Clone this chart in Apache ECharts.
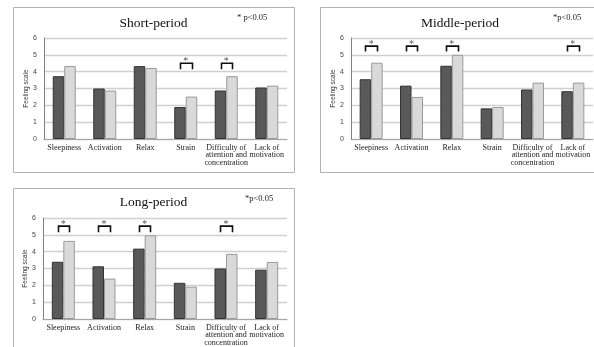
<!DOCTYPE html>
<html><head><meta charset="utf-8">
<script src="https://cdn.jsdelivr.net/npm/echarts@6/dist/echarts.min.js"></script>
<style>html,body{margin:0;padding:0;background:#fff}#c{width:594px;height:347px}</style>
</head><body><div id="c"></div>
<script>
// Feeling-scale ratings per period, two conditions each
const categories = ['Sleepiness', 'Activation', 'Relax', 'Strain', 'Difficulty of\nattention and\nconcentration', 'Lack of\nmotivation'];
const yTicks = [0, 1, 2, 3, 4, 5, 6];
const panelTitles = ['Short-period', 'Middle-period', 'Long-period'];
const noteTexts = ['* p<0.05', '*p<0.05', '*p<0.05'];
const yAxisName = 'Feeling scale';

const shortDark = [3.73, 3.0, 4.33, 1.9, 2.88, 3.06];
const shortLight = [4.34, 2.88, 4.22, 2.52, 3.73, 3.17];
const middleDark = [3.55, 3.17, 4.35, 1.82, 2.94, 2.84];
const middleLight = [4.53, 2.5, 5.0, 1.9, 3.35, 3.35];
const longDark = [3.4, 3.13, 4.18, 2.15, 3.0, 2.93];
const longLight = [4.64, 2.4, 4.97, 1.92, 3.87, 3.39];

// significant pairs: [category index, bracket top, leg end]
const shortSig = [[3, 4.5, 4.15], [4, 4.5, 4.15]];
const middleSig = [[0, 5.52, 5.2], [1, 5.52, 5.2], [2, 5.52, 5.2], [5, 5.52, 5.2]];
const longSig = [[0, 5.52, 5.16], [1, 5.52, 5.16], [2, 5.52, 5.16], [4, 5.52, 5.16]];

const BAR_W = 11.5;
const SERIF = '"Liberation Serif", "Times New Roman", serif';
const SANS = '"Liberation Sans", Arial, sans-serif';

const grids = [
  { left: 44, top: 38, width: 243, height: 101 },
  { left: 351, top: 38, width: 242, height: 101 },
  { left: 43, top: 218, width: 244, height: 101 }
];

const xAxes = grids.map((g, i) => ({
  type: 'category', gridIndex: i, data: categories,
  axisTick: { show: false },
  axisLine: { show: true, lineStyle: { color: '#a6a6a6', width: 1 } },
  axisLabel: { interval: 0, fontFamily: SERIF, fontSize: 8, lineHeight: 7.6, color: '#222', margin: 5 }
}));

const yAxes = grids.map((g, i) => ({
  type: 'value', gridIndex: i, min: yTicks[0], max: yTicks[yTicks.length - 1], interval: 1,
  name: yAxisName, nameLocation: 'middle', nameGap: 14,
  nameTextStyle: { fontFamily: SANS, fontSize: 6.5, color: '#333' },
  axisLine: { show: true, lineStyle: { color: '#808080', width: 1 } },
  axisTick: { show: false },
  splitLine: { show: true, lineStyle: { color: '#d0d0d0', width: 1.4 } },
  axisLabel: { fontFamily: SANS, fontSize: 7, color: '#444', margin: 7 }
}));

function barPair(i, dark, light) {
  return [
    { type: 'bar', xAxisIndex: i, yAxisIndex: i, data: dark, barWidth: BAR_W, barGap: '0%',
      itemStyle: { color: '#595959', borderColor: '#333333', borderWidth: 1 }, silent: true },
    { type: 'bar', xAxisIndex: i, yAxisIndex: i, data: light, barWidth: BAR_W, barGap: '0%',
      itemStyle: { color: '#d9d9d9', borderColor: '#9a9a9a', borderWidth: 1 }, silent: true }
  ];
}

// significance bracket spanning both bar centres, with an asterisk on top
function renderBracket(params, api) {
  const c = api.value(0);
  const top = api.coord([c, api.value(1)]);
  const leg = api.coord([c, api.value(2)]);
  const half = BAR_W / 2;
  const x1 = Math.round(top[0] - half) + 0.5, x2 = Math.round(top[0] + half) + 0.5;
  return {
    type: 'group',
    children: [
      { type: 'polyline', shape: { points: [[x1, leg[1]], [x1, top[1]], [x2, top[1]], [x2, leg[1]]] },
        style: { stroke: '#111', lineWidth: 1.6, fill: null } },
      { type: 'text', x: top[0], y: top[1] - 1.5,
        style: { text: '*', font: '10px ' + SERIF, fill: '#555', align: 'center', verticalAlign: 'middle',
                 textAlign: 'center', textVerticalAlign: 'middle' } }
    ]
  };
}

function bracketSeries(i, sig) {
  return { type: 'custom', xAxisIndex: i, yAxisIndex: i, data: sig, renderItem: renderBracket,
           encode: { x: 0, y: 1 }, silent: true, z: 5 };
}

const titlePos = [[153.5, 23], [460, 23], [153.5, 202]];
const notePos = [[237, 18], [553, 18], [245, 199]];
const boxes = [
  { x: 13.5, y: 7.5, width: 281, height: 165 },
  { x: 320.5, y: 7.5, width: 285, height: 165 },
  { x: 13.5, y: 188.5, width: 281, height: 175 }
];

const graphic = [];
boxes.forEach(b => graphic.push({ type: 'rect', shape: b, style: { fill: null, stroke: '#b3b3b3', lineWidth: 1 }, silent: true }));
panelTitles.forEach((t, i) => graphic.push({
  type: 'text', x: titlePos[i][0], y: titlePos[i][1],
  style: { text: t, font: '13.5px ' + SERIF, fill: '#111', align: 'center', verticalAlign: 'middle',
           textAlign: 'center', textVerticalAlign: 'middle' }
}));
noteTexts.forEach((t, i) => graphic.push({
  type: 'text', x: notePos[i][0], y: notePos[i][1],
  style: { text: t, font: '8.5px ' + SERIF, fill: '#222', align: 'left', verticalAlign: 'middle',
           textAlign: 'left', textVerticalAlign: 'middle' }
}));

const chart = echarts.init(document.getElementById('c'), null, { renderer: 'canvas' });
chart.setOption({
  animation: false,
  backgroundColor: '#fff',
  grid: grids,
  xAxis: xAxes,
  yAxis: yAxes,
  series: [
    ...barPair(0, shortDark, shortLight),
    ...barPair(1, middleDark, middleLight),
    ...barPair(2, longDark, longLight),
    bracketSeries(0, shortSig),
    bracketSeries(1, middleSig),
    bracketSeries(2, longSig)
  ],
  graphic: graphic
});
</script>
</body></html>
